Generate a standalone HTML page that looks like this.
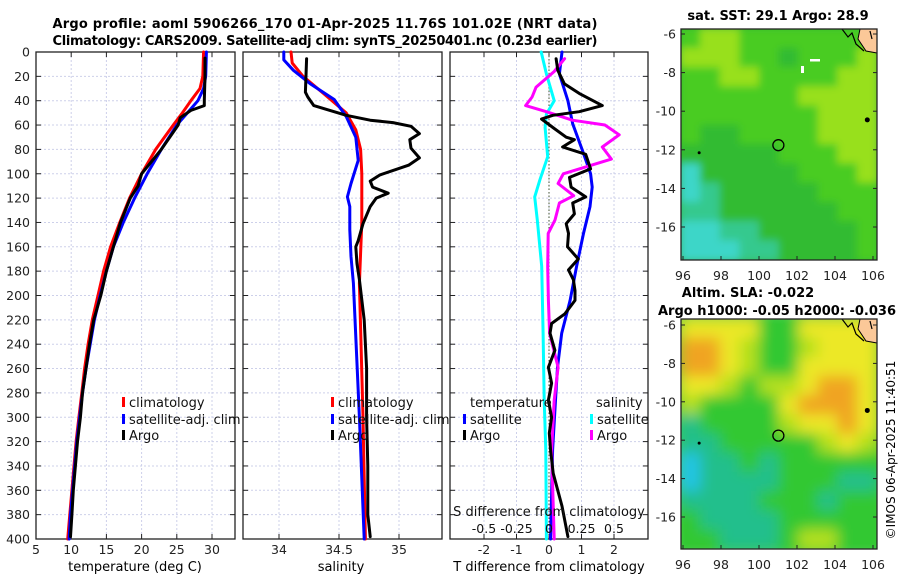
<!DOCTYPE html>
<html><head><meta charset="utf-8"><style>
body{margin:0;background:#fff;width:900px;height:580px;overflow:hidden}
svg{display:block;font-family:"DejaVu Sans","Liberation Sans",sans-serif}
</style></head><body>
<svg id="chart" width="900" height="580" viewBox="0 0 900 580" xmlns="http://www.w3.org/2000/svg">
<defs>
<filter id="blur1" x="-5%" y="-5%" width="110%" height="110%"><feGaussianBlur stdDeviation="4"/></filter>
<filter id="blur2" x="-5%" y="-5%" width="110%" height="110%"><feGaussianBlur stdDeviation="7"/></filter>
<clipPath id="clipM1"><rect x="681" y="29" width="196" height="231"/></clipPath>
<clipPath id="clipM2"><rect x="681" y="319" width="196" height="230"/></clipPath>
</defs>
<text x="325" y="28" text-anchor="middle" font-weight="bold" font-size="13" textLength="545">Argo profile: aoml 5906266_170 01-Apr-2025 11.76S 101.02E (NRT data)</text>
<text x="325" y="45" text-anchor="middle" font-weight="bold" font-size="13" textLength="545">Climatology: CARS2009. Satellite-adj clim: synTS_20250401.nc (0.23d earlier)</text>
<text x="778" y="20" text-anchor="middle" font-weight="bold" font-size="13">sat. SST: 29.1 Argo: 28.9</text>
<text x="748" y="297" text-anchor="middle" font-weight="bold" font-size="13">Altim. SLA: -0.022</text>
<text x="777" y="315" text-anchor="middle" font-weight="bold" font-size="13" textLength="238">Argo h1000: -0.05 h2000: -0.036</text>
<text transform="translate(895,450) rotate(-90)" text-anchor="middle" font-size="12">©IMOS 06-Apr-2025 11:40:51</text>
<text x="135" y="571" text-anchor="middle" font-size="13">temperature (deg C)</text>
<text x="341" y="571" text-anchor="middle" font-size="13">salinity</text>
<text x="549" y="571" text-anchor="middle" font-size="13">T difference from climatology</text>
<g id="layer"></g>
</svg>
<script>
// ---- data ----
const depthTicks=[0,20,40,60,80,100,120,140,160,180,200,220,240,260,280,300,320,340,360,380,400];
const tempTicks=[5,10,15,20,25,30];
const salTicks=[34,34.5,35];
const salTickLabels=["34","34.5","35"];
const tdiffTicks=[-2,-1,0,1,2];
const sdiffTicks=[-0.5,-0.25,0,0.25,0.5];
const sdiffTickLabels=["-0.5","-0.25","0","0.25","0.5"];

const tClimDepth=[0,20,30,40,50,60,80,100,120,140,160,180,200,220,240,260,280,300,320,340,360,380,400];
const tClimVal=[28.8,28.7,28.3,27,25.8,24.5,22,20,18.3,16.9,15.6,14.6,13.8,13,12.4,11.9,11.5,11.1,10.7,10.4,10.1,9.8,9.5];
const tSatDepth=[0,20,30,40,50,60,80,100,120,140,160,180,200,220,240,260,280,300,320,340,360,380,400];
const tSatVal=[29.2,29.1,28.8,28,26.5,25,22.8,20.8,19,17.4,16,15,14.1,13.3,12.7,12.1,11.6,11.2,10.8,10.5,10.2,9.9,9.7];
const tArgoDepth=[5,20,40,44,48,54,60,70,80,100,110,120,140,160,180,200,220,240,260,280,300,320,340,360,380,398];
const tArgoVal=[29.0,29.0,28.9,28.9,27,25.5,25.2,24,22.8,20.0,19.5,18.4,17.0,16.0,15.0,14.2,13.2,12.6,12.1,11.6,11.3,10.9,10.6,10.3,10.1,9.9];

const sClimDepth=[0,9,20,34,50,64,80,100,140,190,300,400];
const sClimVal=[34.1,34.11,34.2,34.37,34.56,34.64,34.68,34.69,34.69,34.67,34.70,34.72];
const sSatDepth=[0,6.5,15,26,39,53,70,89,108,119,127,146,168,190,300,400];
const sSatVal=[34.04,34.04,34.12,34.26,34.46,34.56,34.64,34.66,34.6,34.57,34.59,34.59,34.6,34.62,34.67,34.71];
const sArgoDepth=[5.5,33,37,44,47,52,56,58,61,67,72,79,87,93,101,106,111,116,120,127,141,155,160,174,187,220,260,300,340,380,398];
const sArgoVal=[34.23,34.22,34.24,34.29,34.39,34.56,34.76,34.95,35.1,35.17,35.09,35.1,35.17,35.08,34.84,34.76,34.78,34.91,34.81,34.76,34.7,34.66,34.64,34.65,34.67,34.71,34.73,34.73,34.74,34.74,34.76];

const dTSatDepth=[0,18,40,59,81,100,111,127,149,176,204,231,259,286,327,400];
const dTSatVal=[0.4,0.32,0.58,0.73,1.03,1.28,1.33,1.26,1.06,0.85,0.65,0.39,0.26,0.2,0.11,0.05];
const dTArgoDepth=[5.5,15,26,34,44,49,52,55,62,70,72,78,84,96,103,111,119,124,133,141,149,160,170,179,187,196,204,215,223,231,245,259,272,286,300,313,327,346,373,398];
const dTArgoVal=[0.22,0.27,0.47,0.93,1.64,0.93,0.12,-0.23,0.12,0.53,0.78,0.42,1.13,1.28,0.63,0.68,1.13,0.73,0.78,0.53,0.6,0.57,0.9,0.6,0.75,0.8,0.8,0.49,0.08,0.03,0.18,-0.02,0.08,-0.02,0.08,0.01,0.05,0.13,0.4,0.58];
const dSSatDepth=[0,18,40,51,62,86,105,119,138,176,231,286,327,400];
const dSSatVal=[-0.06,-0.02,0.04,-0.02,-0.03,-0.01,-0.07,-0.11,-0.09,-0.056,-0.045,-0.037,-0.025,-0.02];
const dSArgoDepth=[5.5,16,29,37,44,49,56,60,68,78,88,100,108,118,124,138,149,176,204,231,259,286,327,400];
const dSArgoVal=[0.12,0.04,-0.1,-0.13,-0.18,-0.02,0.18,0.43,0.54,0.41,0.48,0.11,0.07,0.19,0.08,0.046,-0.006,-0.01,-0.005,0.005,0.07,0.04,0.02,0.04];

const latTicks=[-6,-8,-10,-12,-14,-16];
const lonTicks=[96,98,100,102,104,106];
// map fields: rows lat -6.5..-17.5, cols lon 96.5..105.5 (category index)
const sstField=[
[3,4,4,3,3,3,3,3,3,3],
[4,4,4,3,3,2,3,3,3,4],
[3,3,4,4,3,3,3,3,4,4],
[3,3,3,3,3,3,4,4,4,4],
[3,3,3,3,3,3,3,4,4,4],
[3,2,2,3,3,3,3,4,4,4],
[2,2,2,2,2,3,3,3,4,4],
[0,2,2,2,2,2,3,3,3,4],
[0,1,2,2,2,2,2,3,3,3],
[1,1,2,2,2,2,2,2,3,3],
[0,0,1,1,2,2,2,2,2,3],
[0,0,0,1,1,2,2,2,2,3]];
const slaField=[
[4,4,4,4,2,2,4,4,4,4],
[5,5,4,3,2,2,3,4,4,4],
[5,5,4,3,2,2,4,4,4,4],
[4,4,3,2,3,3,4,5,5,4],
[3,2,2,2,2,4,5,5,5,4],
[1,2,2,2,2,3,4,4,5,4],
[1,1,2,2,2,2,2,3,4,3],
[0,1,1,2,1,2,2,2,2,2],
[0,1,1,1,1,2,2,2,1,1],
[1,1,1,1,2,2,2,1,2,2],
[2,1,1,1,1,2,2,2,2,2],
[2,2,1,1,1,2,3,3,2,2]];
const sstColors=["#3dd6c8","#35c98e","#33bb33","#48cc22","#98e01e"];
const slaColors=["#22c4e8","#22bf8c","#33c830","#b4e01c","#ece828","#f0a424"];

// ---- scales ----
const TOP=52,BOT=539;
function yD(d){return TOP+d*(BOT-TOP)/400;}
function xT(t){return 36+(t-5)*7.04;}
function xS(s){return 279+(s-34)*120;}
function xDT(v){return 549+v*32.5;}
function xDS(v){return 549+v*130;}
function yLat1(l){return 34+(-6-l)*19.3;}
function yLat2(l){return 325+(-6-l)*19.2;}
function xLon(l){return 683+(l-96)*19.0;}

const NS="http://www.w3.org/2000/svg";
const layer=document.getElementById("layer");
function mk(tag,attrs,parent){const e=document.createElementNS(NS,tag);for(const k in attrs)e.setAttribute(k,attrs[k]);(parent||layer).appendChild(e);return e;}

const panels=[
 {name:"temperature-panel",x0:36,x1:235,ticks:tempTicks,labels:tempTicks.map(String),fx:xT},
 {name:"salinity-panel",x0:243,x1:442,ticks:salTicks,labels:salTickLabels,fx:xS},
 {name:"difference-panel",x0:450,x1:648,ticks:tdiffTicks,labels:tdiffTicks.map(String),fx:xDT}
];
panels.forEach((p,pi)=>{
 const g=mk("g",{});
 
 
 depthTicks.forEach(d=>{
  const l=mk("line",{x1:p.x0,x2:p.x1,y1:yD(d),y2:yD(d),stroke:"#cdd0ea","stroke-width":1,"stroke-dasharray":"2,2"},g);
  
  
  mk("line",{x1:p.x0,x2:p.x0+5,y1:yD(d),y2:yD(d),stroke:"#222"},g);
  mk("line",{x1:p.x1-5,x2:p.x1,y1:yD(d),y2:yD(d),stroke:"#222"},g);
 });
 p.ticks.forEach((t,i)=>{
  const x=p.fx(t);
  const l=mk("line",{x1:x,x2:x,y1:TOP,y2:BOT,stroke:"#cdd0ea","stroke-width":1,"stroke-dasharray":"2,2"},g);
  
  
  mk("line",{x1:x,x2:x,y1:BOT-5,y2:BOT,stroke:"#222"},g);
  mk("line",{x1:x,x2:x,y1:TOP,y2:TOP+5,stroke:"#222"},g);
  const tx=mk("text",{x:x,y:554,"text-anchor":"middle","font-size":12.5,fill:"#222"},g);
  tx.textContent=p.labels[i];
  
  
 });
 const b=mk("rect",{x:p.x0,y:TOP,width:p.x1-p.x0,height:BOT-TOP,fill:"none",stroke:"#222","stroke-width":1.3},g);
 
 
});
depthTicks.forEach(d=>{
 const t=mk("text",{x:30,y:yD(d)+4.5,"text-anchor":"end","font-size":12.5,fill:"#222"});
 t.textContent=String(d);
 
 
});
const z=mk("line",{x1:549,x2:549,y1:yD(0),y2:yD(400),stroke:"#445533","stroke-width":1,"stroke-dasharray":"1.5,2"});



function series(depths,vals,fx,color,name){
 const pts=depths.map((d,i)=>fx(vals[i]).toFixed(1)+","+yD(d).toFixed(1)).join(" ");
 const pl=mk("polyline",{points:pts,fill:"none",stroke:color,"stroke-width":3,"stroke-linejoin":"round","stroke-linecap":"round"});
 
 
}
series(tClimDepth,tClimVal,xT,"#ff0000","temp-climatology-line");
series(tSatDepth,tSatVal,xT,"#0000ff","temp-satellite-line");
series(tArgoDepth,tArgoVal,xT,"#000000","temp-argo-line");
series(sClimDepth,sClimVal,xS,"#ff0000","sal-climatology-line");
series(sSatDepth,sSatVal,xS,"#0000ff","sal-satellite-line");
series(sArgoDepth,sArgoVal,xS,"#000000","sal-argo-line");
series(dSSatDepth,dSSatVal,xDS,"#00ffff","sdiff-satellite-line");
series(dTSatDepth,dTSatVal,xDT,"#0000ff","tdiff-satellite-line");
series(dSArgoDepth,dSArgoVal,xDS,"#ff00ff","sdiff-argo-line");
series(dTArgoDepth,dTArgoVal,xDT,"#000000","tdiff-argo-line");

function legendEntry(x,y,color,label,name){
 const g=mk("g",{});
 
 
 mk("rect",{x:x,y:y-10,width:3,height:10,fill:color},g);
 const t=mk("text",{x:x+7,y:y,"font-size":13,fill:"#111"},g);
 t.textContent=label;
}
legendEntry(122,407,"#ff0000","climatology","legend-entry-climatology");
legendEntry(122,424,"#0000ff","satellite-adj. clim","legend-entry-satellite");
legendEntry(122,440,"#000000","Argo","legend-entry-argo");
legendEntry(331,407,"#ff0000","climatology","legend-entry-climatology-sal");
legendEntry(331,424,"#0000ff","satellite-adj. clim","legend-entry-satellite-sal");
legendEntry(331,440,"#000000","Argo","legend-entry-argo-sal");
let lt=mk("text",{x:470,y:407,"font-size":13,fill:"#111"});lt.textContent="temperature";


lt=mk("text",{x:596,y:407,"font-size":13,fill:"#111"});lt.textContent="salinity";


legendEntry(463,424,"#0000ff","satellite","legend-entry-t-satellite");
legendEntry(463,440,"#000000","Argo","legend-entry-t-argo");
legendEntry(590,424,"#00ffff","satellite","legend-entry-s-satellite");
legendEntry(590,440,"#ff00ff","Argo","legend-entry-s-argo");
lt=mk("text",{x:549,y:516,"text-anchor":"middle","font-size":13,fill:"#111"});lt.textContent="S difference from climatology";


sdiffTicks.forEach((v,i)=>{
 const t=mk("text",{x:xDS(v),y:533,"text-anchor":"middle","font-size":12.5,fill:"#111"});
 t.textContent=sdiffTickLabels[i];
 
 
});

function drawMap(field,colors,top,bottom,clip,filt,yLat,name){
 const g=mk("g",{"clip-path":"url(#"+clip+")"});
 
 
 const inner=mk("g",{filter:"url(#"+filt+")"},g);
 const rows=field.length,cols=field[0].length;
 const cw=196/cols,ch=(bottom-top)/rows;
 mk("rect",{x:670,y:top-10,width:220,height:bottom-top+20,fill:colors[2]},inner);
 field.forEach((row,r)=>row.forEach((v,c)=>{
  mk("rect",{x:681+c*cw-0.5,y:top+r*ch-0.5,width:cw+1,height:ch+1,fill:colors[v]},inner);
 }));
 const land=mk("path",{d:"M860 "+top+" L877 "+top+" L877 "+(top+24)+" L866 "+(top+22)+" L858 "+(top+10)+" Z",fill:"#fbc898",stroke:"#000","stroke-width":1},g);
 
 
 mk("path",{d:"M842 "+top+" L848 "+(top+8)+" L852 "+(top+4)+" L856 "+(top+15)+" L864 "+(top+22)+" M870 "+(top+2)+" L872 "+(top+10),fill:"none",stroke:"#000","stroke-width":1.2},g);
 mk("circle",{cx:xLon(105.7),cy:yLat(-10.45),r:2.5,fill:"#000"},g);
 mk("circle",{cx:xLon(96.85),cy:yLat(-12.15),r:1.5,fill:"#000"},g);
 const mark=mk("circle",{cx:xLon(101.02),cy:yLat(-11.76),r:5.5,fill:"none",stroke:"#000","stroke-width":1.3},g);
 
 
 const fr=mk("rect",{x:681,y:top,width:196,height:bottom-top,fill:"none",stroke:"#222","stroke-width":1.3});
 
 
 latTicks.forEach(l=>{
  const y=yLat(l);
  mk("line",{x1:681,x2:685,y1:y,y2:y,stroke:"#222"});
  mk("line",{x1:873,x2:877,y1:y,y2:y,stroke:"#222"});
  const t=mk("text",{x:676,y:y+4.5,"text-anchor":"end","font-size":12.5,fill:"#222"});
  t.textContent=String(l);
  
  
 });
 lonTicks.forEach(l=>{
  const x=xLon(l);
  mk("line",{x1:x,x2:x,y1:bottom-4,y2:bottom,stroke:"#222"});
  const t=mk("text",{x:x,y:bottom+20,"text-anchor":"middle","font-size":12.5,fill:"#222"});
  t.textContent=String(l);
  
  
 });
}
drawMap(sstField,sstColors,29,260,"clipM1","blur1",yLat1,"sst-map");
drawMap(slaField,slaColors,319,549,"clipM2","blur2",yLat2,"sla-map");
mk("rect",{x:810,y:59,width:10,height:2.5,fill:"#fff"});
mk("rect",{x:801,y:66,width:3,height:7,fill:"#fff"});
</script>
</body></html>
